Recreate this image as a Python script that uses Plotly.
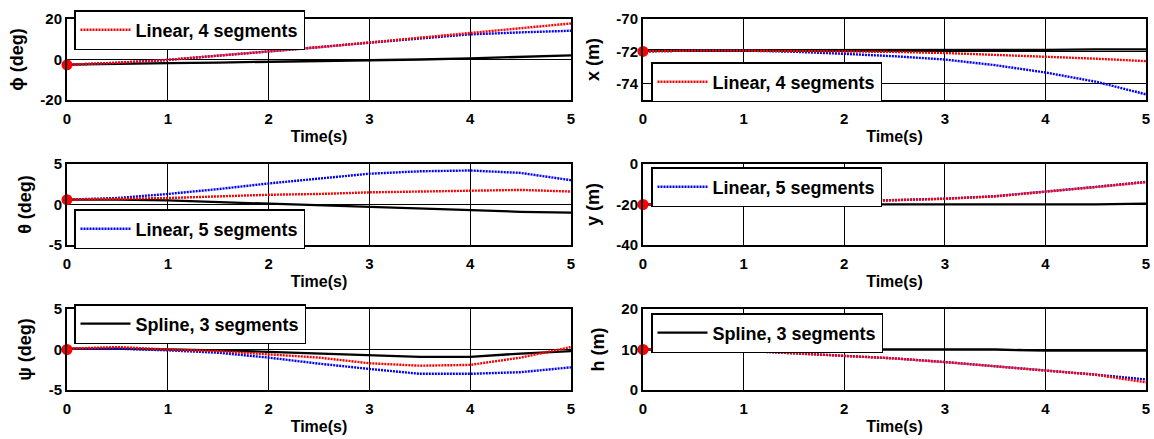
import plotly.graph_objects as go

# ---------------- data ----------------
t = [0, 0.5, 1, 1.5, 2, 2.5, 3, 3.5, 4, 4.5, 5]

phi_lin4 = [-2.6, -1.6, -0.2, 1.8, 3.9, 6.1, 8.4, 10.7, 13.2, 15.5, 17.8]
phi_lin5 = [-2.6, -1.6, -0.2, 1.8, 3.9, 6.1, 8.3, 10.4, 12.4, 13.4, 14.2]
phi_spl3 = [-2.5, -2.3, -1.8, -1.5, -1.2, -0.9, -0.5, 0.0, 0.6, 1.2, 2.0]

x_lin4 = [-72.0, -71.95, -71.95, -71.97, -72.0, -72.03, -72.1, -72.2, -72.33, -72.45, -72.6]
x_lin5 = [-72.0, -71.95, -71.95, -72.02, -72.15, -72.3, -72.5, -72.85, -73.3, -73.87, -74.65]
x_spl3 = [-71.93, -71.93, -71.93, -71.93, -71.93, -71.93, -71.93, -71.93, -71.9, -71.87, -71.87]

th_lin4 = [0.6, 0.7, 0.8, 1.0, 1.2, 1.3, 1.5, 1.6, 1.7, 1.8, 1.6]
th_lin5 = [0.6, 0.8, 1.3, 1.9, 2.6, 3.2, 3.8, 4.1, 4.2, 3.9, 3.0]
th_spl3 = [0.6, 0.6, 0.5, 0.3, 0.1, -0.1, -0.3, -0.5, -0.75, -0.9, -1.0]

y_lin4 = [-20.0, -20.0, -20.0, -19.8, -18.6, -18.0, -17.2, -16.0, -13.8, -11.4, -9.0]
y_lin5 = [-20.0, -20.0, -20.0, -19.8, -18.5, -17.9, -17.1, -15.9, -13.7, -11.3, -8.8]
y_spl3 = [-20.0, -20.0, -20.0, -20.0, -20.0, -20.0, -20.0, -20.0, -20.0, -19.9, -19.6]

psi_lin4 = [0.1, 0.3, 0.0, -0.2, -0.6, -1.0, -1.7, -2.0, -1.9, -1.0, 0.3]
psi_lin5 = [0.1, 0.1, -0.1, -0.4, -1.0, -1.75, -2.4, -3.0, -3.0, -2.8, -2.2]
psi_spl3 = [0.1, 0.1, 0.0, -0.1, -0.3, -0.5, -0.7, -0.9, -0.9, -0.5, -0.2]

h_lin4 = [10.0, 10.0, 9.7, 9.1, 8.5, 7.8, 6.9, 5.9, 4.8, 3.75, 1.9]
h_lin5 = [10.0, 10.0, 9.7, 9.1, 8.5, 7.8, 6.9, 5.9, 4.8, 3.8, 2.6]
h_spl3 = [10.0, 10.0, 10.0, 10.0, 10.0, 10.0, 10.0, 10.0, 9.7, 9.7, 9.7]

init_vals = [-2.6, -72.0, 0.6, -20.0, 0.0, 10.0]

y_titles = ["\u03d5 (deg)", "x (m)", "\u03b8 (deg)", "y (m)", "\u03c8 (deg)", "h (m)"]
y_ranges = [[-20, 20], [-75, -70], [-5, 5], [-40, 0], [-5, 5], [0, 20]]
y_ticks = [[-20, 0, 20], [-74, -72, -70], [-5, 0, 5], [-40, -20, 0], [-5, 0, 5], [0, 10, 20]]
x_ticks = [0, 1, 2, 3, 4, 5]

series = [
    (phi_lin4, phi_lin5, phi_spl3),
    (x_lin4, x_lin5, x_spl3),
    (th_lin4, th_lin5, th_spl3),
    (y_lin4, y_lin5, y_spl3),
    (psi_lin4, psi_lin5, psi_spl3),
    (h_lin4, h_lin5, h_spl3),
]
names = ["Linear, 4 segments", "Linear, 5 segments", "Spline, 3 segments"]
legend_series = [0, 0, 1, 1, 2, 2]  # which series appears in each subplot's legend

# ---------------- layout geometry ----------------
W, H = 1154, 439
xcols = [(67, 571), (643, 1146)]
yrows = [(19, 100), (164, 245), (309, 390)]
legend_pos = [(74, 10), (651, 62), (74, 209), (651, 167), (74, 304), (651, 313)]

RED = "rgb(255,0,0)"
BLUE = "rgb(0,0,255)"
BLACK = "rgb(0,0,0)"
FONT = "Liberation Sans, Arial, sans-serif"

fig = go.Figure()
layout = dict(
    width=W, height=H,
    margin=dict(l=0, r=0, t=0, b=0),
    paper_bgcolor="white", plot_bgcolor="white",
    font=dict(family=FONT, size=15, color="black", weight="bold"),
    showlegend=True,
)

for i in range(6):
    r, c = divmod(i, 2)
    n = i + 1
    xa = "x" if n == 1 else f"x{n}"
    ya = "y" if n == 1 else f"y{n}"
    leg = "legend" if n == 1 else f"legend{n}"
    lin4, lin5, spl3 = series[i]
    styles = [
        (spl3, dict(color=BLACK, width=2.3), names[2], 2),
        (lin5, dict(color=BLUE, width=2.4, dash="2px,1px"), names[1], 1),
        (lin4, dict(color=RED, width=2.4, dash="2px,1px"), names[0], 0),
    ]
    for vals, line, name, k in styles:
        fig.add_trace(go.Scatter(
            x=t, y=vals, mode="lines", line=line, name=name,
            xaxis=xa, yaxis=ya, legend=leg,
            showlegend=(k == legend_series[i]),
        ))
    fig.add_trace(go.Scatter(
        x=[t[0]], y=[init_vals[i]], mode="markers",
        marker=dict(color=RED, size=11, line=dict(width=0)),
        xaxis=xa, yaxis=ya, showlegend=False, cliponaxis=False,
    ))

    x0, x1 = xcols[c]
    y0, y1 = yrows[r]
    axis_common = dict(
        showline=True, linecolor="black", linewidth=2, mirror=True,
        showgrid=True, gridcolor="black", gridwidth=1.2,
        zeroline=False, ticks="", automargin=False,
        tickfont=dict(family=FONT, size=15, color="black", weight="bold"),
    )
    layout["xaxis" if n == 1 else f"xaxis{n}"] = dict(
        axis_common,
        domain=[x0 / W, x1 / W], anchor=ya, range=[0, 5],
        tickmode="array", tickvals=x_ticks, ticktext=[str(v) for v in x_ticks],
        ticklabelstandoff=4,
        title=dict(text="Time(s)", font=dict(family=FONT, size=16, weight="bold"), standoff=5),
    )
    layout["yaxis" if n == 1 else f"yaxis{n}"] = dict(
        axis_common,
        domain=[1 - y1 / H, 1 - y0 / H], anchor=xa, range=y_ranges[i],
        tickmode="array", tickvals=y_ticks[i], ticktext=[str(v) for v in y_ticks[i]],
        title=dict(text=y_titles[i], font=dict(family=FONT, size=18, weight="bold"), standoff=12),
    )
    lx, ly = legend_pos[i]
    layout[leg] = dict(
        x=lx / W, y=1 - ly / H, xanchor="left", yanchor="top",
        bgcolor="white", bordercolor="black", borderwidth=1.5,
        font=dict(family=FONT, size=18, color="black", weight="bold"),
        itemwidth=50,
    )

fig.update_layout(**layout)
fig.write_html("out.html")
